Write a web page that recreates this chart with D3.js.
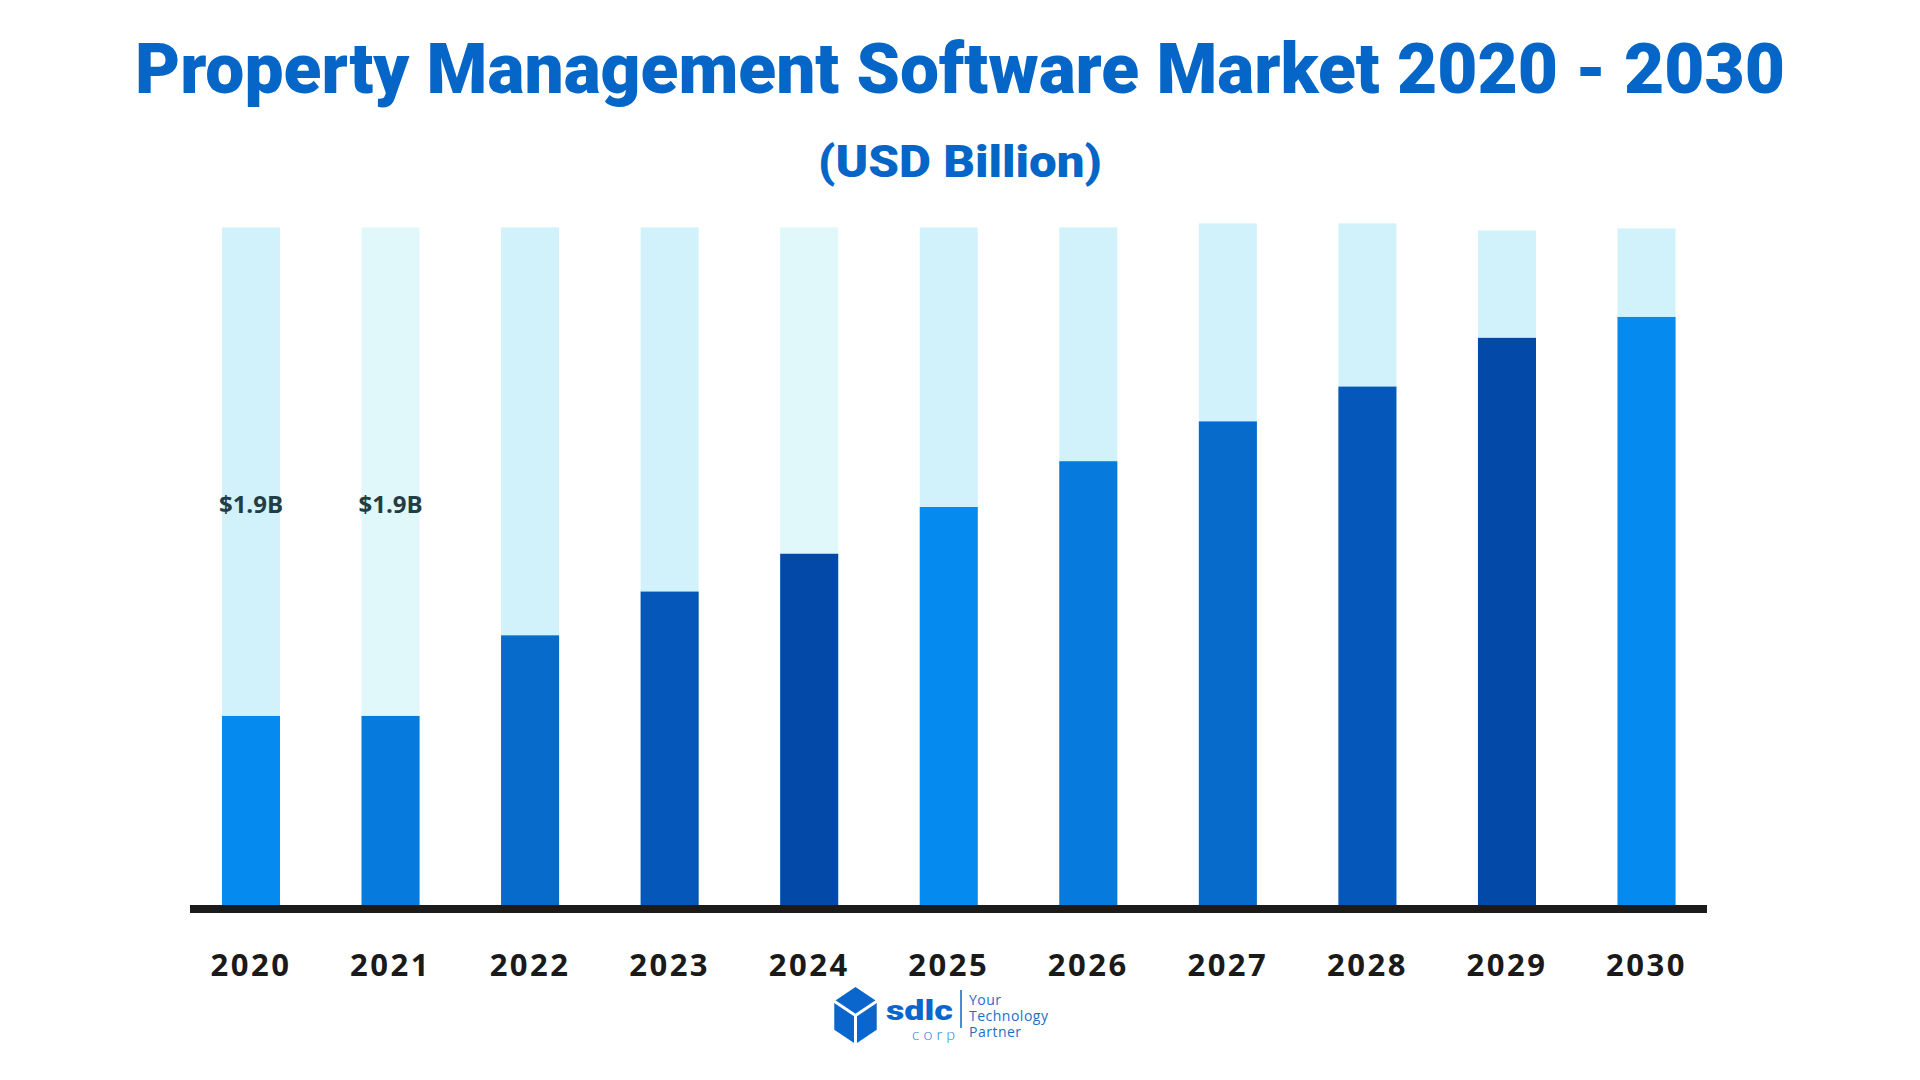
<!DOCTYPE html>
<html>
<head>
<meta charset="utf-8">
<script src="https://cdn.jsdelivr.net/npm/d3@7"></script>
<style>
  html, body { margin:0; padding:0; background:#ffffff; }
  svg { display:block; }
</style>
</head>
<body>
<svg></svg>
<script>
// chart data
var years = ["2020","2021","2022","2023","2024","2025","2026","2027","2028","2029","2030"];
var marketValues = [1.9, 1.9, 2.71, 3.15, 3.53, 4.0, 4.46, 4.86, 5.21, 5.70, 5.91];
var trackValues = [6.81, 6.81, 6.81, 6.81, 6.81, 6.81, 6.81, 6.85, 6.85, 6.78, 6.80];
var barLabels = ["$1.9B", "$1.9B", "", "", "", "", "", "", "", "", ""];
var labelLevel = 3.94;

var barColors = ["#058bef","#067bdd","#066bca","#0558b9","#0349a7"];
var trackColors = ["#d2f2fb","#e0f8fa","#d2f2fb","#d2f2fb","#e0f8fa","#d2f2fb","#d2f2fb","#d2f2fb","#d2f2fb","#d2f2fb","#d2f2fb"];

var width = 1920;
var height = 1080;
var baseY = 905;

var svg = d3.select("svg")
            .attr("width", width)
            .attr("height", height);

var xScale = d3.scaleBand()
               .domain(years)
               .range([181.2, 1716.3])
               .paddingInner(0.584)
               .paddingOuter(0.292);

var yScale = d3.scaleLinear()
               .domain([0, 7])
               .range([baseY, baseY - 7*99.5]);

// title
svg.append("text")
   .text("Property Management Software Market 2020 - 2030")
   .attr("x", 960)
   .attr("y", 93)
   .attr("text-anchor", "middle")
   .attr("textLength", 1650)
   .attr("lengthAdjust", "spacingAndGlyphs")
   .style("font-family", "Roboto, 'Liberation Sans', sans-serif")
   .style("font-weight", 900)
   .style("font-size", "70px")
   .attr("fill", "#0566c8");

svg.append("text")
   .text("(USD Billion)")
   .attr("x", 960)
   .attr("y", 177)
   .attr("text-anchor", "middle")
   .attr("textLength", 284)
   .attr("lengthAdjust", "spacingAndGlyphs")
   .style("font-family", "Roboto, 'Liberation Sans', sans-serif")
   .style("font-weight", 900)
   .style("font-size", "45px")
   .attr("fill", "#0566c8");

// background tracks
svg.selectAll("rect.track")
   .data(trackValues)
   .enter()
   .append("rect")
   .attr("class","track")
   .attr("x", function(d,i){ return xScale(years[i]); })
   .attr("y", function(d){ return yScale(d); })
   .attr("width", xScale.bandwidth())
   .attr("height", function(d){ return baseY - yScale(d); })
   .attr("fill", function(d,i){ return trackColors[i]; });

// value bars
svg.selectAll("rect.bar")
   .data(marketValues)
   .enter()
   .append("rect")
   .attr("class","bar")
   .attr("x", function(d,i){ return xScale(years[i]); })
   .attr("y", function(d){ return yScale(d); })
   .attr("width", xScale.bandwidth())
   .attr("height", function(d){ return baseY - yScale(d); })
   .attr("fill", function(d,i){ return barColors[i % barColors.length]; });

// value labels
svg.selectAll("text.lbl")
   .data(barLabels)
   .enter()
   .append("text")
   .attr("class","lbl")
   .text(function(d){ return d; })
   .attr("x", function(d,i){ return xScale(years[i]) + xScale.bandwidth()/2; })
   .attr("y", yScale(labelLevel))
   .attr("text-anchor","middle")
   .style("font-family","'Open Sans', sans-serif")
   .style("font-weight",700)
   .style("font-size","24px")
   .attr("fill","#243c43");

// baseline
svg.append("rect")
   .attr("x", 190)
   .attr("y", baseY)
   .attr("width", 1517)
   .attr("height", 8)
   .attr("fill", "#1b1b1b");

// x axis labels
var xAxis = d3.axisBottom(xScale).tickSize(0);
var gx = svg.append("g")
   .attr("transform","translate(0,"+baseY+")")
   .call(xAxis);
gx.select(".domain").remove();
gx.selectAll("text")
  .attr("y", 71)
  .attr("dy", 0)
  .style("font-family","'Open Sans', sans-serif")
  .style("font-weight",700)
  .style("font-size","31px")
  .style("letter-spacing","2.5px")
  .attr("fill","#1a1a1a");

// logo
var logo = svg.append("g");
var cx = 855.5, cy = 1015.5, r = 28.5;
var hex = d3.range(6).map(function(k){
  var a = Math.PI/180*(60*k - 90);
  return [cx + r*Math.cos(a)*0.86, cy + r*Math.sin(a)];
});
logo.append("path")
    .attr("d", "M" + hex.join("L") + "Z")
    .attr("fill", "#0a66cc");
logo.append("path")
    .attr("d", "M"+hex[5]+"L"+[cx,cy]+"L"+hex[1]+"M"+[cx,cy]+"L"+hex[3])
    .attr("stroke","#ffffff")
    .attr("stroke-width",3)
    .attr("fill","none");
logo.append("text")
    .text("sdlc")
    .attr("x", 886).attr("y", 1020)
    .attr("textLength", 67)
    .attr("lengthAdjust","spacingAndGlyphs")
    .style("font-family","Roboto, sans-serif")
    .style("font-weight",900)
    .style("font-size","28px")
    .attr("fill","#0a66cc");
logo.append("text")
    .text("corp")
    .attr("x", 912).attr("y", 1040)
    .attr("textLength", 43)
    .style("font-family","Lato, sans-serif")
    .style("font-weight",300)
    .style("font-size","16px")
    .attr("fill","#2a7fd4");
logo.append("line")
    .attr("x1",961).attr("x2",961)
    .attr("y1",990).attr("y2",1028)
    .attr("stroke","#0a66cc")
    .attr("stroke-width",1.5);
["Your","Technology","Partner"].forEach(function(t,i){
  logo.append("text")
      .text(t)
      .attr("x", 969)
      .attr("y", 1005 + i*16)
      .style("font-family","'Open Sans', sans-serif")
      .style("font-size","14px")
      .style("letter-spacing","0.5px")
      .attr("fill","#1a6fc8");
});
</script>
</body>
</html>
